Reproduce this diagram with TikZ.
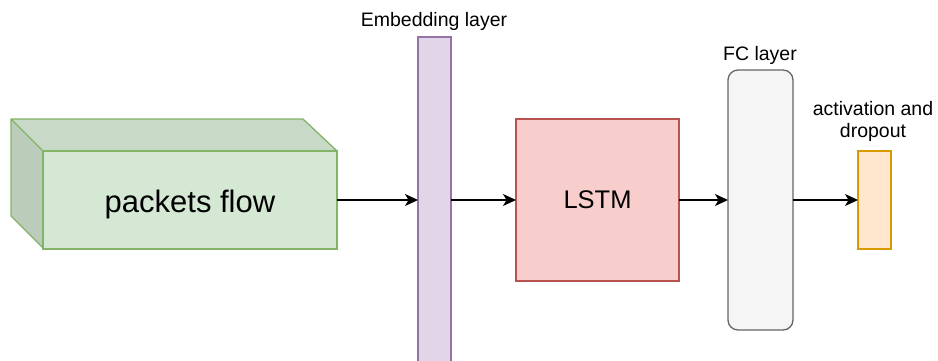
\documentclass[tikz,border=0pt]{standalone}
\usepackage{fontspec}
\setmainfont{Liberation Sans}
\usetikzlibrary{arrows.meta}

\definecolor{flowfill}{HTML}{D5E8D4}
\definecolor{flowtop}{HTML}{C8DAC7}
\definecolor{flowside}{HTML}{BBCDBA}
\definecolor{flowline}{HTML}{82B366}
\definecolor{embfill}{HTML}{E1D5E7}
\definecolor{embline}{HTML}{9673A6}
\definecolor{lstmfill}{HTML}{F8CECC}
\definecolor{lstmline}{HTML}{B85450}
\definecolor{fcfill}{HTML}{F5F5F5}
\definecolor{fcline}{HTML}{666666}
\definecolor{actfill}{HTML}{FFE6CC}
\definecolor{actline}{HTML}{D79B00}

\tikzset{
  block/.style={draw, line width=1.3pt, anchor=north west, inner sep=0pt, outer sep=0pt},
  caption/.style={font=\fontsize{19.5}{22}\selectfont, align=center, inner sep=0pt},
  link/.style={line width=1.3pt, -{Stealth[length=13pt,width=12pt,inset=3.5pt]}},
}

\begin{document}
\begin{tikzpicture}[x=1pt,y=-1pt]
\clip (0,0) rectangle (938,360);

% packets flow: cuboid with visible top and left faces
\fill[flowtop] (11,119) -- (303,119) -- (337,151) -- (43,151) -- cycle;
\fill[flowside] (11,119) -- (43,151) -- (43,248) -- (11,216) -- cycle;
\node[block, draw=flowline, fill=flowfill, minimum width=294pt, minimum height=98pt] (flow) at (43,151) {};
\node[font=\fontsize{31}{36}\selectfont, inner sep=0pt] (flowtext) at ([yshift=-4pt]flow.center) {packets flow};
\draw[flowline, line width=1.3pt, line join=round]
  (43,151) -- (11,119) -- (303,119) -- (337,151)
  (11,119) -- (11,216) -- (43,248);

% embedding layer
\node[block, draw=embline, fill=embfill, minimum width=33pt, minimum height=340pt] (emb) at (418,37) {};
\node[caption] (embcap) at (434,21.5) {Embedding layer};

% LSTM
\node[block, draw=lstmline, fill=lstmfill, minimum width=163pt, minimum height=162pt,
      font=\fontsize{25.5}{30}\selectfont] (lstm) at (516,119) {LSTM};

% fully connected layer
\node[block, draw=fcline, fill=fcfill, rounded corners=10pt, minimum width=65pt, minimum height=260pt] (fc) at (728,70) {};
\node[caption] (fccap) at (760,55) {FC layer};

% activation and dropout
\node[block, draw=actline, fill=actfill, minimum width=33pt, minimum height=98pt] (act) at (858,151) {};
\node[caption] (actcap) at (873,121) {activation and\\dropout};

% connectors
\draw[link] (flow.east) -- (flow.east -| emb.west);
\draw[link] (emb.east |- lstm.west) -- (lstm.west);
\draw[link] (lstm.east) -- (lstm.east -| fc.west);
\draw[link] (fc.east |- act.west) -- (act.west);
\end{tikzpicture}
\end{document}
